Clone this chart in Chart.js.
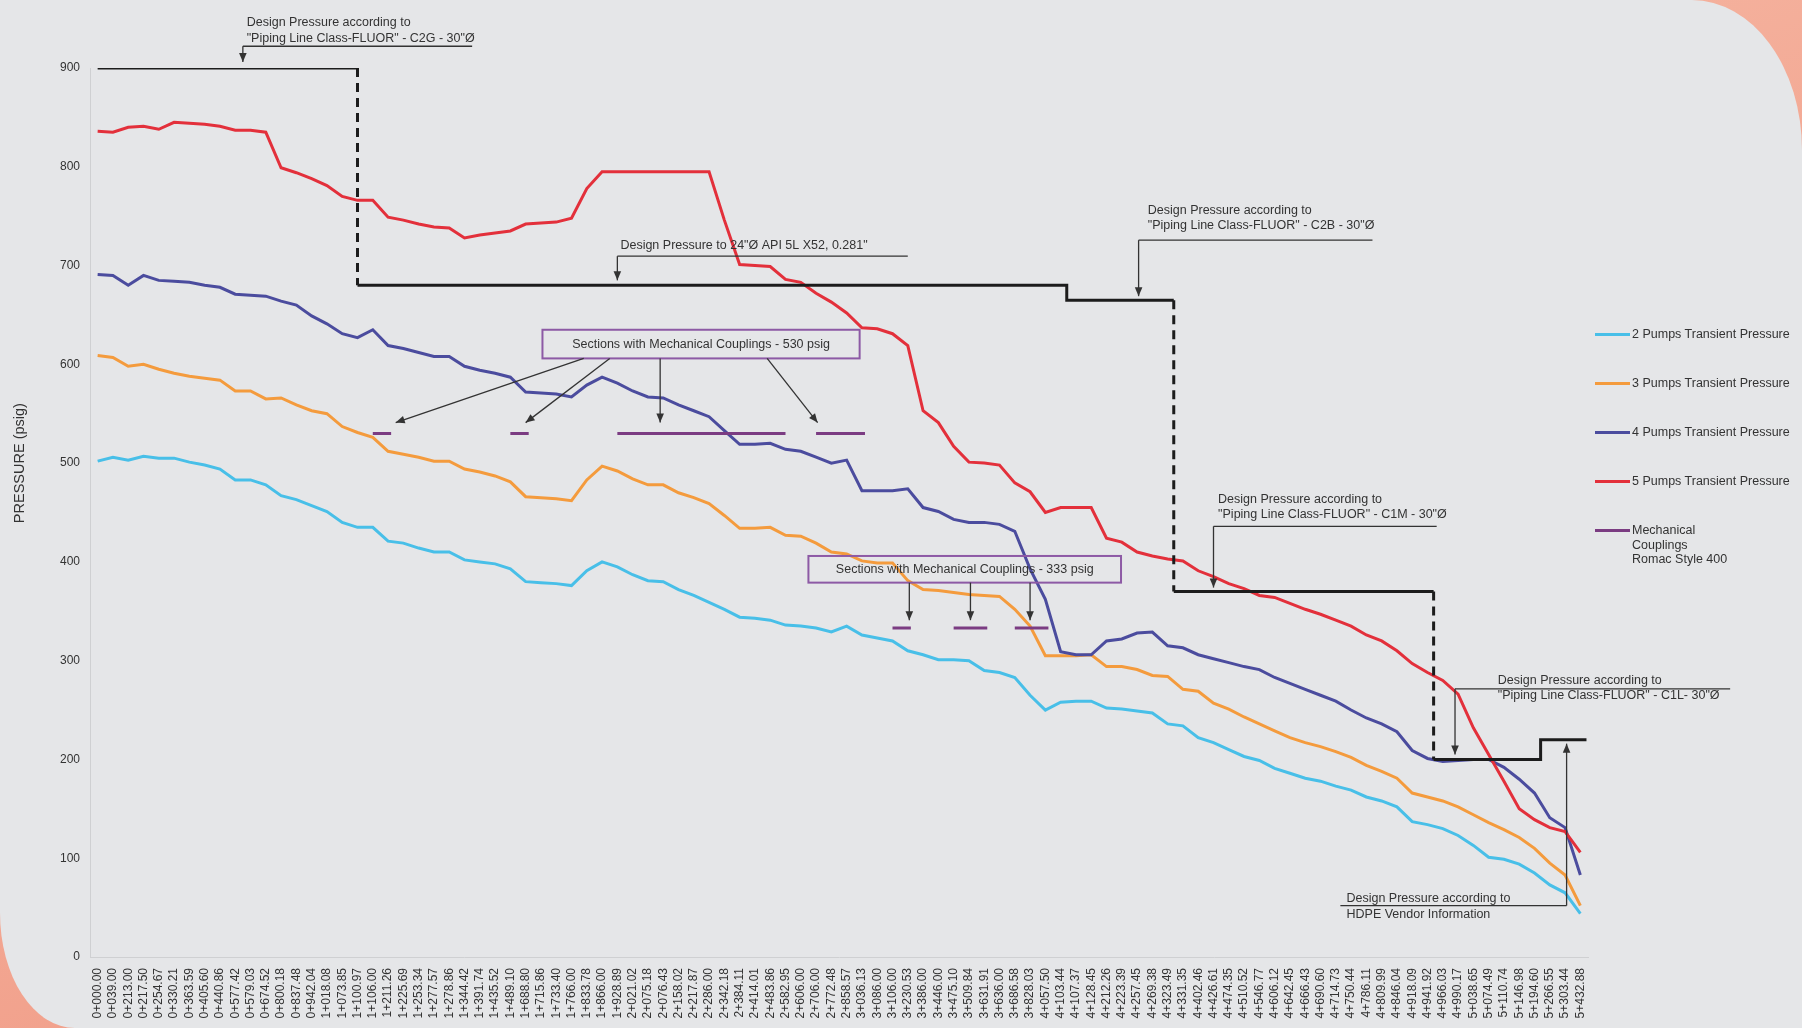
<!DOCTYPE html>
<html>
<head>
<meta charset="utf-8">
<title>Transient Pressure Profile</title>
<script src="https://cdn.jsdelivr.net/npm/chart.js@4.4.1/dist/chart.umd.min.js"></script>
<style>
  html, body { margin: 0; padding: 0; }
  body {
    width: 1802px; height: 1028px; overflow: hidden; position: relative;
    background: linear-gradient(160deg, #f8c4b1 0%, #ee8d77 100%);
    font-family: "Liberation Sans", Arial, sans-serif;
  }
  #card {
    position: absolute; left: 0; top: 0; width: 1802px; height: 1028px;
    background: #e5e6e8;
    border-top-right-radius: 110px 150px;
    border-bottom-left-radius: 75px 115px;
  }
  #chart { position: absolute; left: 0; top: 0; }
  #legend { position: absolute; left: 1595px; top: 0; color: #333; font-size: 12.5px; line-height: 14.5px; }
  .item { position: absolute; left: 0; display: flex; align-items: flex-start; white-space: nowrap; }
  .swatch { width: 35px; height: 3px; margin-top: 6px; margin-right: 2px; flex: none; }
</style>
</head>
<body>
<div id="card"></div>
<canvas id="chart" width="1802" height="1028"></canvas>
<div id="legend"></div>
<script>
// Stations (chainage)
const stations = [
  '0+000.00', '0+039.00', '0+213.00', '0+217.50', '0+254.67', '0+330.21', '0+363.59', '0+405.60', '0+440.86', '0+577.42',
  '0+579.03', '0+674.52', '0+800.18', '0+837.48', '0+942.04', '1+018.08', '1+073.85', '1+100.97', '1+106.00', '1+211.26',
  '1+225.69', '1+253.34', '1+277.57', '1+278.86', '1+344.42', '1+391.74', '1+435.52', '1+489.10', '1+688.80', '1+715.86',
  '1+733.40', '1+766.00', '1+833.78', '1+866.00', '1+928.89', '2+021.02', '2+075.18', '2+076.43', '2+158.02', '2+217.87',
  '2+286.00', '2+342.18', '2+384.11', '2+414.01', '2+483.86', '2+582.95', '2+606.00', '2+706.00', '2+772.48', '2+858.57',
  '3+036.13', '3+086.00', '3+106.00', '3+230.53', '3+386.00', '3+446.00', '3+475.10', '3+509.84', '3+631.91', '3+636.00',
  '3+686.58', '3+828.03', '4+057.50', '4+103.44', '4+107.37', '4+128.45', '4+212.26', '4+223.39', '4+257.45', '4+269.38',
  '4+323.49', '4+331.35', '4+402.46', '4+426.61', '4+474.35', '4+510.52', '4+546.77', '4+606.12', '4+642.45', '4+666.43',
  '4+690.60', '4+714.73', '4+750.44', '4+786.11', '4+809.99', '4+846.04', '4+918.09', '4+941.92', '4+966.03', '4+990.17',
  '5+038.65', '5+074.49', '5+110.74', '5+146.98', '5+194.60', '5+266.55', '5+303.44', '5+432.88'
];

// Transient pressure (psig)
const pumps2 = [
  502, 506, 503, 507, 505, 505, 501, 498, 494, 483, 483, 478, 467, 463, 457, 451, 440, 435, 435, 421,
  419, 414, 410, 410, 402, 400, 398, 393, 380, 379, 378, 376, 391, 400, 395, 387, 381, 380, 372, 366,
  359, 352, 344, 343, 341, 336, 335, 333, 329, 335, 326, 323, 320, 310, 306, 301, 301, 300, 290, 288,
  283, 265, 250, 258, 259, 259, 252, 251, 249, 247, 236, 234, 222, 217, 210, 203, 199, 191, 186, 181,
  178, 173, 169, 162, 158, 152, 137, 134, 130, 123, 113, 101, 99, 94, 85, 73, 65, 44
];
const pumps3 = [
  609, 607, 598, 600, 595, 591, 588, 586, 584, 573, 573, 565, 566, 559, 553, 550, 537, 531, 526, 512,
  509, 506, 502, 502, 494, 491, 487, 481, 466, 465, 464, 462, 483, 497, 492, 484, 478, 478, 470, 465,
  459, 447, 434, 434, 435, 427, 426, 419, 410, 408, 401, 399, 399, 381, 372, 371, 369, 367, 366, 365,
  352, 335, 305, 305, 305, 306, 294, 294, 291, 285, 284, 271, 269, 257, 251, 243, 236, 229, 222, 217,
  213, 208, 202, 194, 188, 181, 166, 162, 158, 152, 144, 136, 129, 121, 110, 95, 83, 52
];
const pumps4 = [
  691, 690, 680, 690, 685, 684, 683, 680, 678, 671, 670, 669, 664, 660, 649, 641, 631, 627, 635, 619,
  616, 612, 608, 608, 598, 594, 591, 587, 572, 571, 570, 567, 579, 587, 581, 573, 567, 566, 559, 553,
  547, 533, 519, 519, 520, 514, 512, 506, 500, 503, 472, 472, 472, 474, 455, 451, 443, 440, 440, 438,
  431, 393, 362, 309, 306, 306, 320, 322, 328, 329, 315, 313, 306, 302, 298, 294, 291, 283, 277, 271,
  265, 259, 250, 242, 236, 228, 209, 201, 198, 199, 200, 200, 192, 180, 166, 141, 131, 83
];
const pumps5 = [
  836, 835, 840, 841, 838, 845, 844, 843, 841, 837, 837, 835, 799, 794, 788, 781, 770, 766, 766, 749,
  746, 742, 739, 738, 728, 731, 733, 735, 742, 743, 744, 748, 778, 795, 795, 795, 795, 795, 795, 795,
  795, 746, 701, 700, 699, 686, 683, 672, 663, 652, 637, 636, 631, 619, 553, 541, 517, 501, 500, 498,
  480, 471, 450, 455, 455, 455, 424, 420, 410, 406, 403, 401, 391, 385, 378, 373, 366, 364, 358, 352,
  347, 341, 335, 326, 320, 310, 297, 288, 280, 266, 232, 205, 178, 150, 139, 131, 127, 106
];

const yTicks = [0, 100, 200, 300, 400, 500, 600, 700, 800, 900];

// Design pressure steps (station index, psig)
const designStart = [0, 17, 63.4, 70.4, 87.4, 94.4];
const designEnd = [17, 63.4, 70.4, 87.4, 94.4, 97.4];
const designPsig = [900, 680, 665, 370, 200, 220];
const designDropDashed = [true, false, true, true, false];

// Sections with mechanical couplings (station index ranges)
const couplings530 = [[18, 19.2], [27, 28.2], [34, 45], [47, 50.2]];
const couplings333 = [[52, 53.2], [56, 58.2], [60, 62.2]];

const seriesNames = ['2 Pumps Transient Pressure', '3 Pumps Transient Pressure', '4 Pumps Transient Pressure', '5 Pumps Transient Pressure'];

// Colors
const colors = {
  p2: '#48bfe8',
  p3: '#f49b3d',
  p4: '#4b4c9e',
  p5: '#e3303b',
  design: '#1c1c1c',
  coupling: '#7b3c82',
  box: '#8d5aa5',
  text: '#333333'
};

// Build design line points
const designSolid = [];
const designDashed = [];
designPsig.forEach((p, k) => {
  designSolid.push({ x: designStart[k], y: p }, { x: designEnd[k], y: p });
  if (k < designPsig.length - 1) {
    const next = { x: designEnd[k], y: designPsig[k + 1] };
    if (designDropDashed[k]) {
      designSolid.push({ x: designEnd[k], y: null });
      designDashed.push({ x: designEnd[k], y: p }, next, { x: designEnd[k], y: null });
    } else {
      designSolid.push(next);
    }
  }
});

function sectionPoints(sections, psig) {
  const pts = [];
  sections.forEach(([a, b]) => pts.push({ x: a, y: psig }, { x: b, y: psig }, { x: b, y: null }));
  return pts;
}

// Annotation callouts (station index, psig)
const callouts = [
  { lines: ['Design Pressure according to', '"Piping Line Class-FLUOR" - C2G - 30"Ø'], textX: 9.75, textY: [946, 930],
    lineY: 922, lineFrom: 9.5, lineTo: 24.5, arrowX: 9.5, tipY: 906 },
  { lines: ['Design Pressure to 24"Ø API 5L X52, 0.281"'], textX: 34.2, textY: [720],
    lineY: 709.5, lineFrom: 34.0, lineTo: 53.0, arrowX: 34.0, tipY: 685 },
  { lines: ['Design Pressure according to', '"Piping Line Class-FLUOR" - C2B - 30"Ø'], textX: 68.7, textY: [756, 741],
    lineY: 725.7, lineFrom: 68.1, lineTo: 83.4, arrowX: 68.1, tipY: 669 },
  { lines: ['Design Pressure according to', '"Piping Line Class-FLUOR" - C1M - 30"Ø'], textX: 73.3, textY: [463, 448],
    lineY: 436, lineFrom: 73.0, lineTo: 87.6, arrowX: 73.0, tipY: 374 },
  { lines: ['Design Pressure according to', '"Piping Line Class-FLUOR" - C1L- 30"Ø'], textX: 91.6, textY: [280, 265],
    lineY: 271.5, lineFrom: 88.8, lineTo: 106.8, arrowX: 88.8, tipY: 205 },
  { lines: ['Design Pressure according to', 'HDPE Vendor Information'], textX: 81.7, textY: [59, 43],
    lineY: 52, lineFrom: 81.3, lineTo: 96.1, arrowX: 96.1, tipY: 216 }
];

const boxes = [
  { text: 'Sections with Mechanical Couplings - 530 psig', x0: 29.1, x1: 49.85, yTop: 635, yBot: 606,
    arrows: [[31.8, 19.5], [33.5, 28.0], [36.8, 36.8], [43.8, 47.1]], tipY: 541 },
  { text: 'Sections with Mechanical Couplings - 333 psig', x0: 46.5, x1: 66.95, yTop: 406, yBot: 379,
    arrows: [[53.1, 53.1], [57.1, 57.1], [61.0, 61.0]], tipY: 341 }
];

function drawArrow(ctx, x1, y1, x2, y2) {
  ctx.beginPath();
  ctx.moveTo(x1, y1);
  ctx.lineTo(x2, y2);
  ctx.stroke();
  const a = Math.atan2(y2 - y1, x2 - x1);
  const len = 9, half = 3.8;
  ctx.beginPath();
  ctx.moveTo(x2, y2);
  ctx.lineTo(x2 - len * Math.cos(a) + half * Math.sin(a), y2 - len * Math.sin(a) - half * Math.cos(a));
  ctx.lineTo(x2 - len * Math.cos(a) - half * Math.sin(a), y2 - len * Math.sin(a) + half * Math.cos(a));
  ctx.closePath();
  ctx.fill();
}

const annotationPlugin = {
  id: 'annotations',
  afterDatasetsDraw(chart) {
    const { ctx } = chart;
    const xs = chart.scales.xd;
    const ys = chart.scales.y;
    const X = v => xs.getPixelForValue(v);
    const Y = v => ys.getPixelForValue(v);
    ctx.save();
    ctx.font = '12.5px "Liberation Sans", Arial, sans-serif';
    ctx.fillStyle = colors.text;
    ctx.strokeStyle = colors.text;
    ctx.lineWidth = 1.3;
    ctx.textBaseline = 'middle';

    callouts.forEach(c => {
      ctx.textAlign = 'left';
      c.lines.forEach((t, k) => ctx.fillText(t, X(c.textX), Y(c.textY[k])));
      ctx.beginPath();
      ctx.moveTo(X(c.lineFrom), Y(c.lineY));
      ctx.lineTo(X(c.lineTo), Y(c.lineY));
      ctx.stroke();
      drawArrow(ctx, X(c.arrowX), Y(c.lineY), X(c.arrowX), Y(c.tipY));
    });

    boxes.forEach(b => {
      ctx.strokeStyle = colors.box;
      ctx.lineWidth = 2;
      ctx.strokeRect(X(b.x0), Y(b.yTop), X(b.x1) - X(b.x0), Y(b.yBot) - Y(b.yTop));
      ctx.textAlign = 'center';
      ctx.fillStyle = colors.text;
      ctx.fillText(b.text, (X(b.x0) + X(b.x1)) / 2, (Y(b.yTop) + Y(b.yBot)) / 2);
      ctx.strokeStyle = colors.text;
      ctx.lineWidth = 1.3;
      b.arrows.forEach(([from, to]) => drawArrow(ctx, X(from), Y(b.yBot), X(to), Y(b.tipY)));
    });

    // Y axis title
    ctx.translate(chart.chartArea.left - 70, Y(500));
    ctx.rotate(-Math.PI / 2);
    ctx.textAlign = 'center';
    ctx.font = '14.5px "Liberation Sans", Arial, sans-serif';
    ctx.fillText('PRESSURE (psig)', 0, 0);
    ctx.restore();
  }
};

const lineStyle = { borderWidth: 3, pointRadius: 0, tension: 0, fill: false };

const chart = new Chart(document.getElementById('chart').getContext('2d'), {
  type: 'line',
  data: {
    labels: stations,
    datasets: [
      { label: 'Design', data: designSolid, xAxisID: 'xd', borderColor: colors.design, ...lineStyle, borderWidth: 3 },
      { label: 'Design drop', data: designDashed, xAxisID: 'xd', borderColor: colors.design, ...lineStyle, borderWidth: 3, borderDash: [9, 6] },
      { label: 'Couplings 530', data: sectionPoints(couplings530, 530), xAxisID: 'xd', borderColor: colors.coupling, ...lineStyle },
      { label: 'Couplings 333', data: sectionPoints(couplings333, 333), xAxisID: 'xd', borderColor: colors.coupling, ...lineStyle },
      { label: seriesNames[3], data: pumps5, xAxisID: 'x', borderColor: colors.p5, ...lineStyle },
      { label: seriesNames[2], data: pumps4, xAxisID: 'x', borderColor: colors.p4, ...lineStyle },
      { label: seriesNames[1], data: pumps3, xAxisID: 'x', borderColor: colors.p3, ...lineStyle },
      { label: seriesNames[0], data: pumps2, xAxisID: 'x', borderColor: colors.p2, ...lineStyle }
    ]
  },
  options: {
    responsive: false,
    devicePixelRatio: 1,
    animation: false,
    events: [],
    layout: { padding: { top: 68, right: 214, bottom: 0, left: 0 } },
    plugins: {
      legend: { display: false },
      tooltip: { enabled: false }
    },
    scales: {
      x: {
        type: 'category',
        offset: true,
        grid: { display: false, drawTicks: false },
        border: { display: true, color: '#cfd0d2' },
        ticks: {
          autoSkip: false,
          minRotation: 90,
          maxRotation: 90,
          padding: 11,
          color: colors.text,
          font: { family: '"Liberation Sans", Arial, sans-serif', size: 12 }
        },
        afterFit(scale) { scale.height = 71; }
      },
      xd: {
        type: 'linear',
        display: false,
        min: -0.5,
        max: 97.5
      },
      y: {
        min: 0,
        max: 900,
        grid: { display: false, drawTicks: false },
        border: { display: true, color: '#cfd0d2' },
        ticks: {
          padding: 10,
          color: colors.text,
          font: { family: '"Liberation Sans", Arial, sans-serif', size: 12 }
        },
        afterBuildTicks(scale) { scale.ticks = yTicks.map(v => ({ value: v })); },
        afterFit(scale) { scale.width = 90; }
      }
    }
  },
  plugins: [annotationPlugin]
});

// Legend
const legendItems = [
  { name: seriesNames[0], color: colors.p2, center: 334 },
  { name: seriesNames[1], color: colors.p3, center: 383 },
  { name: seriesNames[2], color: colors.p4, center: 432 },
  { name: seriesNames[3], color: colors.p5, center: 481 },
  { name: 'Mechanical<br>Couplings<br>Romac Style 400', color: colors.coupling, center: 530 }
];
const legendEl = document.getElementById('legend');
legendItems.forEach(item => {
  const row = document.createElement('div');
  row.className = 'item';
  row.style.top = (item.center - 7) + 'px';
  row.innerHTML = '<span class="swatch" style="background:' + item.color + '"></span><span>' + item.name + '</span>';
  legendEl.appendChild(row);
});
</script>
</body>
</html>
